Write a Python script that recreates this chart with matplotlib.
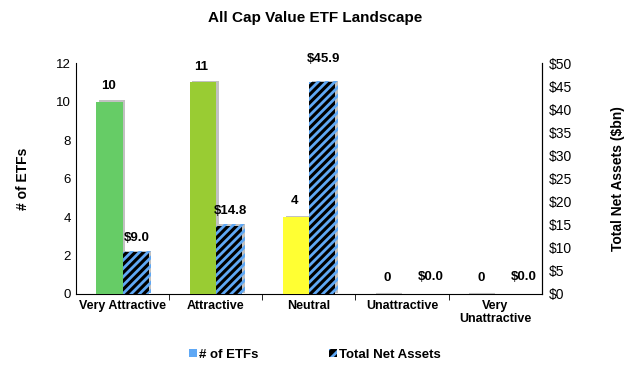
import numpy as np
import matplotlib.pyplot as plt
import matplotlib.patheffects as pe
from matplotlib.patches import Patch

plt.rcParams["font.family"] = ["Liberation Sans", "DejaVu Sans"]
plt.rcParams["hatch.linewidth"] = 2.0

# ----------------------------
# Data
# ----------------------------
categories = ["Very Attractive", "Attractive", "Neutral", "Unattractive", "Very\nUnattractive"]
etf_counts = [10, 11, 4, 0, 0]
net_assets = [9.0, 14.8, 45.9, 0.0, 0.0]
count_colors = ["#66CC66", "#99CC33", "#FFFF33", "#66CC66", "#66CC66"]

blue = "#5FA8F5"
shadow = [pe.SimplePatchShadow(offset=(2, 1), shadow_rgbFace="#999999", alpha=0.6), pe.Normal()]

x = np.arange(len(categories))
w = 0.28

fig = plt.figure(figsize=(6.3, 3.67), dpi=100)
ax = fig.add_axes([0.1206, 0.199, 0.7394, 0.629])
ax2 = ax.twinx()

# count bars
bars1 = ax.bar(x - w / 2, etf_counts, w, color=count_colors, linewidth=0, zorder=3)
for b, v in zip(bars1, etf_counts):
    b.set_path_effects(shadow)
    if v == 0:
        # empty categories still show a thin grey stub
        b.set_edgecolor("#BBBBBB")
        b.set_linewidth(1.5)

# asset bars (black with blue stripes)
bars2 = ax2.bar(x + w / 2, net_assets, w, color="black", edgecolor=blue,
                hatch="////", linewidth=0, zorder=3)
for b in bars2:
    b.set_path_effects(shadow)

# value labels
for xi, v in zip(x, etf_counts):
    ax.annotate(f"{v}", (xi - w / 2, v), xytext=(-1, 7), textcoords="offset points",
                ha="center", va="bottom", fontsize=9.5, fontweight="bold")
for xi, v in zip(x, net_assets):
    if v == 0:
        dx, dy = 11, 8
    elif v > 40:
        dx, dy = 1, 12
    else:
        dx, dy = 1, 6
    ax2.annotate(f"${v:.1f}", (xi + w / 2, v), xytext=(dx, dy), textcoords="offset points",
                 ha="center", va="bottom", fontsize=9.5, fontweight="bold")

# axes
ax.set_xlim(-0.5, len(categories) - 0.5)
ax.set_ylim(0, 12)
ax.set_yticks(range(0, 13, 2))
ax2.set_ylim(0, 50)
ax2.set_yticks(range(0, 51, 5))
ax2.set_yticklabels([f"${t}" for t in range(0, 51, 5)])

ax.set_xticks(x)
ax.set_xticklabels(categories, fontweight="bold", fontsize=9)
ax.tick_params(axis="x", length=0, pad=4)
ax.set_xticks(np.arange(0.5, len(categories) - 0.5, 1), minor=True)
ax.tick_params(axis="x", which="minor", length=4, direction="out")

ax.tick_params(axis="y", length=0, labelsize=9.5)
ax2.tick_params(axis="y", length=0, labelsize=10, pad=5)

for a in (ax, ax2):
    a.spines["top"].set_visible(False)
ax2.spines["left"].set_visible(False)
ax2.spines["bottom"].set_visible(False)

ax.set_ylabel("# of ETFs", fontweight="bold", fontsize=10, labelpad=19)
ax2.set_ylabel("Total Net Assets ($bn)", fontweight="bold", fontsize=10, labelpad=28)

fig.suptitle("All Cap Value ETF Landscape", fontweight="bold", fontsize=11, y=0.97)

handles = [Patch(facecolor=blue, linewidth=0),
           Patch(facecolor="black", edgecolor=blue, hatch="///", linewidth=0)]
fig.legend(handles, ["# of ETFs", "Total Net Assets"], loc="lower center",
           bbox_to_anchor=(0.5, -0.015), ncol=2, frameon=False,
           handlelength=0.6, handleheight=0.6, handletextpad=0.2, columnspacing=5.3,
           prop={"weight": "bold", "size": 9.5})

fig.savefig("out.png", dpi=100)
